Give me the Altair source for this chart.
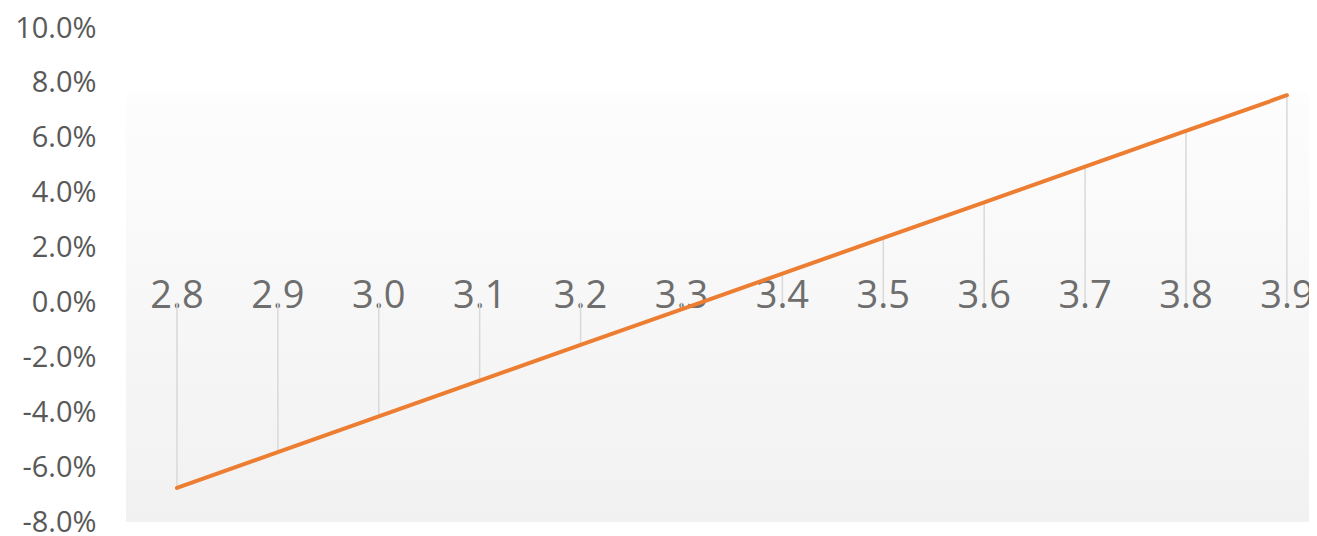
import altair as alt
import pandas as pd

categories = ["2.8", "2.9", "3.0", "3.1", "3.2", "3.3", "3.4", "3.5", "3.6", "3.7", "3.8", "3.9"]
values = [-0.0676, -0.0545, -0.0415, -0.0285, -0.0155, -0.0025, 0.0105, 0.0235, 0.0365, 0.0495, 0.0625, 0.0755]
y_ticks = [-0.08, -0.06, -0.04, -0.02, 0.0, 0.02, 0.04, 0.06, 0.08, 0.10]

df = pd.DataFrame({"cat": categories, "x": [float(c) for c in categories], "v": values, "zero": [0.0] * len(categories)})

W, H = 1183, 494
FONT = "Open Sans"
GRAY = "#595959"

xscale = alt.Scale(domain=[2.7495, 3.9219], nice=False, zero=False)
yscale = alt.Scale(domain=[-0.08, 0.10], nice=False, zero=False)
yaxis = alt.Axis(
    values=y_ticks,
    labelExpr="(datum.value < -0.0001 ? '-' : '') + format(abs(datum.value), '.1%')",
    labelFont=FONT, labelFontSize=29, labelColor=GRAY, labelPadding=30,
    domain=False, ticks=False, grid=False, title=None,
)

bg = alt.Chart(alt.Data(values=[{}])).mark_rect(
    color=alt.Gradient(
        gradient="linear", x1=0, x2=0, y1=0, y2=1,
        stops=[alt.GradientStop(color="#fdfdfd", offset=0), alt.GradientStop(color="#f1f1f1", offset=1)],
    )
).encode(x=alt.value(0), x2=alt.value(W), y=alt.value(65), y2=alt.value(H))

base = alt.Chart(df)

texts = base.mark_text(font=FONT, fontSize=38, color="#6e6e6e", baseline="middle", align="center", dy=-5).encode(
    x=alt.X("x:Q", scale=xscale, axis=None),
    y=alt.Y("zero:Q", scale=yscale, axis=yaxis),
    text="cat:N",
)

rules = base.mark_rule(color="#d9d9d9", strokeWidth=1.5).encode(
    x=alt.X("x:Q", scale=xscale, axis=None),
    y=alt.Y("v:Q", scale=yscale, axis=yaxis),
    y2="zero:Q",
)

line = base.mark_line(color="#ED7D31", strokeWidth=4, strokeCap="round").encode(
    x=alt.X("x:Q", scale=xscale, axis=None),
    y=alt.Y("v:Q", scale=yscale, axis=yaxis),
)

chart = alt.layer(bg, texts, rules, line).properties(
    width=W, height=H,
    autosize=alt.AutoSizeParams(type="none"),
    padding={"left": 118, "top": 20, "right": 0, "bottom": 14},
).configure(background="white").configure_view(stroke=None)

chart.save("out.html", embed_options={"renderer": "svg", "actions": False})
